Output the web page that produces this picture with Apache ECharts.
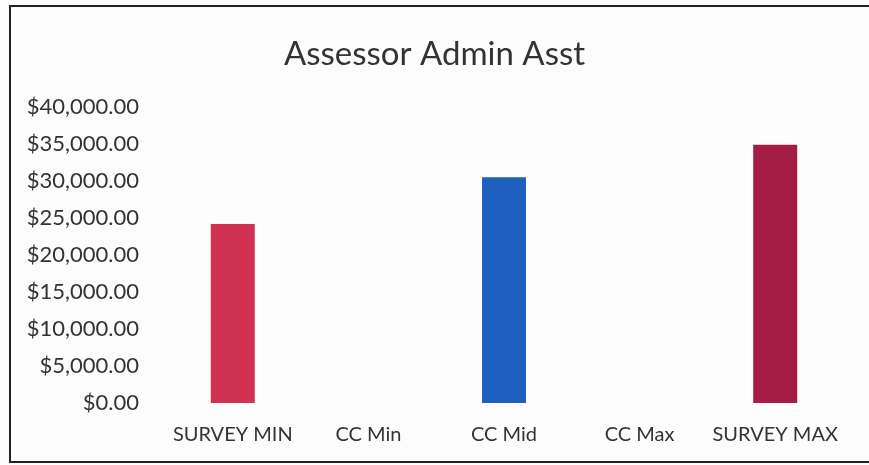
<!DOCTYPE html>
<html>
<head>
<meta charset="utf-8">
<script src="https://cdn.jsdelivr.net/npm/echarts@6/dist/echarts.min.js"></script>
<style>
html,body{margin:0;padding:0;background:#fcfcfc;}
#chart{width:869px;height:465px;}
</style>
</head>
<body>
<div id="chart"></div>
<script>
const categories = ['SURVEY MIN', 'CC Min', 'CC Mid', 'CC Max', 'SURVEY MAX'];
const values = [24200, null, 30500, null, 34900];
const barColors = ['#d23252', '#1f5fbf', '#1f5fbf', '#1f5fbf', '#a51d45'];
const yTicks = { min: 0, max: 40000, interval: 5000 };

const chart = echarts.init(document.getElementById('chart'));
const fmt = v => '$' + v.toLocaleString('en-US', {minimumFractionDigits: 2, maximumFractionDigits: 2});
chart.setOption({
  backgroundColor: '#fcfcfc',
  animation: false,
  title: {
    text: 'Assessor Admin Asst',
    left: 'center',
    top: 33,
    textStyle: { fontFamily: 'Lato', fontSize: 33, fontWeight: 'normal', color: '#333' }
  },
  graphic: [{
    type: 'rect',
    shape: { x: 10, y: 6, width: 880, height: 456 },
    style: { fill: 'none', stroke: '#222', lineWidth: 2 }
  }],
  grid: { left: 165, right: 26, top: 107, bottom: 62 },
  xAxis: {
    type: 'category',
    data: categories,
    axisLine: { show: false },
    axisTick: { show: false },
    axisLabel: { fontFamily: 'Lato', fontSize: 20, color: '#333', margin: 22, interval: 0 }
  },
  yAxis: {
    type: 'value',
    min: yTicks.min, max: yTicks.max, interval: yTicks.interval,
    splitLine: { show: false },
    axisLine: { show: false },
    axisTick: { show: false },
    axisLabel: { fontFamily: 'Lato', fontSize: 22, color: '#333', margin: 26, formatter: fmt }
  },
  series: [{
    type: 'bar',
    barWidth: 44,
    data: values.map((v, i) => ({ value: v, itemStyle: { color: barColors[i] } }))
  }]
});
</script>
</body>
</html>
